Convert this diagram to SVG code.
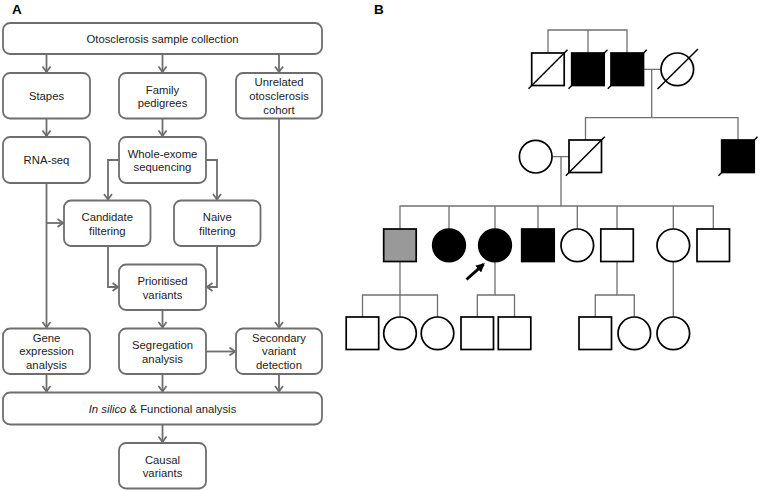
<svg xmlns="http://www.w3.org/2000/svg" width="760" height="491" viewBox="0 0 760 491">
<style>
.box{fill:#fff;stroke:#6e6e6e;stroke-width:1.8}
.t{font-family:"Liberation Sans",Arial,sans-serif;font-size:11.3px;fill:#222;text-anchor:middle}
.lbl{font-family:"Liberation Sans",Arial,sans-serif;font-size:13.5px;font-weight:bold;fill:#000}
.c{fill:none;stroke:#6e6e6e;stroke-width:1.8}
.pl{fill:none;stroke:#707070;stroke-width:1.3}
.sym{stroke:#000;stroke-width:1.7}
.o{fill:#fff}
.f{fill:#000}
.g{fill:#999}
.sl{stroke:#000;stroke-width:1.5}
</style>
<defs>
<marker id="ah" viewBox="0 0 10 10" refX="9" refY="5" markerWidth="10" markerHeight="10" markerUnits="userSpaceOnUse" orient="auto">
<path d="M3.5,1 L9,5 L3.5,9" fill="none" stroke="#6e6e6e" stroke-width="1.8"/>
</marker>
<marker id="bh" viewBox="0 0 10 10" refX="8" refY="5" markerWidth="9" markerHeight="9" markerUnits="userSpaceOnUse" orient="auto">
<path d="M0,0 L10,5 L0,10 Z" fill="#000"/>
</marker>
</defs>

<text class="lbl" x="12" y="14">A</text>
<text class="lbl" x="374" y="14">B</text>

<g id="connectors">
<path class="c" d="M46.5,54 V72" marker-end="url(#ah)"/>
<path class="c" d="M162.5,54 V72" marker-end="url(#ah)"/>
<path class="c" d="M279,54 V72" marker-end="url(#ah)"/>
<path class="c" d="M46.5,118.5 V136" marker-end="url(#ah)"/>
<path class="c" d="M162.5,118.5 V136" marker-end="url(#ah)"/>
<path class="c" d="M119,160 H108 V199.5" marker-end="url(#ah)"/>
<path class="c" d="M206,160 H217 V199.5" marker-end="url(#ah)"/>
<path class="c" d="M46.5,183.5 V327.5" marker-end="url(#ah)"/>
<path class="c" d="M46.5,223 H63" marker-end="url(#ah)"/>
<path class="c" d="M108,246 V287 H118" marker-end="url(#ah)"/>
<path class="c" d="M217,246 V287 H207" marker-end="url(#ah)"/>
<path class="c" d="M162.5,310 V327.5" marker-end="url(#ah)"/>
<path class="c" d="M279,118.5 V327.5" marker-end="url(#ah)"/>
<path class="c" d="M206,351.5 H235" marker-end="url(#ah)"/>
<path class="c" d="M46.5,374 V391.5" marker-end="url(#ah)"/>
<path class="c" d="M162.5,374 V391.5" marker-end="url(#ah)"/>
<path class="c" d="M279,374 V391.5" marker-end="url(#ah)"/>
<path class="c" d="M162.5,424.5 V442" marker-end="url(#ah)"/>
</g>

<g id="collection"><rect class="box" x="3" y="23" width="319" height="31" rx="7"/><text class="t" x="162.5" y="43">Otosclerosis sample collection</text></g>
<g id="stapes"><rect class="box" x="3" y="73" width="87" height="45.5" rx="7"/><text class="t" x="46.5" y="100">Stapes</text></g>
<g id="family"><rect class="box" x="119" y="73" width="87" height="45.5" rx="7"/><text class="t" x="162.5" y="93.5">Family</text><text class="t" x="162.5" y="107">pedigrees</text></g>
<g id="unrelated"><rect class="box" x="236" y="73" width="86" height="45.5" rx="7"/><text class="t" x="279" y="85.7">Unrelated</text><text class="t" x="279" y="100">otosclerosis</text><text class="t" x="279" y="113.5">cohort</text></g>
<g id="rnaseq"><rect class="box" x="3" y="137" width="87" height="46" rx="7"/><text class="t" x="46.5" y="164">RNA-seq</text></g>
<g id="wes"><rect class="box" x="119" y="137" width="87" height="46" rx="7"/><text class="t" x="162.5" y="157.5">Whole-exome</text><text class="t" x="162.5" y="171">sequencing</text></g>
<g id="candidate"><rect class="box" x="64" y="200.5" width="86.5" height="45.5" rx="7"/><text class="t" x="107.3" y="221">Candidate</text><text class="t" x="107.3" y="234.5">filtering</text></g>
<g id="naive"><rect class="box" x="174" y="200.5" width="86.5" height="45.5" rx="7"/><text class="t" x="217.3" y="221">Naive</text><text class="t" x="217.3" y="234.5">filtering</text></g>
<g id="prioritised"><rect class="box" x="119" y="264.5" width="87" height="45.5" rx="7"/><text class="t" x="162.5" y="285">Prioritised</text><text class="t" x="162.5" y="298.5">variants</text></g>
<g id="gene"><rect class="box" x="3" y="328.5" width="87" height="45.5" rx="7"/><text class="t" x="46.5" y="341.5">Gene</text><text class="t" x="46.5" y="355">expression</text><text class="t" x="46.5" y="368.5">analysis</text></g>
<g id="segregation"><rect class="box" x="119" y="328.5" width="87" height="45.5" rx="7"/><text class="t" x="162.5" y="349">Segregation</text><text class="t" x="162.5" y="362.5">analysis</text></g>
<g id="secondary"><rect class="box" x="236" y="328.5" width="86" height="45.5" rx="7"/><text class="t" x="279" y="341.5">Secondary</text><text class="t" x="279" y="355">variant</text><text class="t" x="279" y="368.5">detection</text></g>
<g id="insilico"><rect class="box" x="3" y="392.5" width="319" height="32" rx="7"/><text class="t" x="162.5" y="412.5"><tspan font-style="italic">In silico</tspan> &amp; Functional analysis</text></g>
<g id="causal"><rect class="box" x="119" y="443" width="87" height="45.5" rx="7"/><text class="t" x="162.5" y="463.5">Causal</text><text class="t" x="162.5" y="477">variants</text></g>

<g id="pedigree-lines">
<path class="pl" d="M548,53 V30 H627 V53 M588,30 V53"/>
<path class="pl" d="M643.5,69.3 H661 M651.7,69.3 V117.7 M585.5,140 V117.7 H738 V140"/>
<path class="pl" d="M552,156.7 H569 M561,156.7 V206"/>
<path class="pl" d="M400,229 V206 H713.3 V229 M449,206 V229 M495,206 V229 M538,206 V229 M577.3,206 V229 M617,206 V229 M673.3,206 V229"/>
<path class="pl" d="M400,261.5 V295 M362.5,317 V295 H437.5 V317 M400,295 V317"/>
<path class="pl" d="M495,262 V295 M477.3,317 V295 H514.5 V317"/>
<path class="pl" d="M617,261.5 V295 M595.3,317 V295 H634.3 V317"/>
<path class="pl" d="M673.3,262 V317"/>
</g>

<g id="gen1">
<rect class="sym o" x="531.7" y="53" width="32.5" height="32.5"/>
<line class="sl" x1="528.5" y1="88.7" x2="567.5" y2="49.7"/>
<rect class="sym f" x="571.7" y="53" width="32.5" height="32.5"/>
<line class="sl" x1="568.5" y1="88.7" x2="607.5" y2="49.7"/>
<rect class="sym f" x="611" y="53" width="32.5" height="32.5"/>
<line class="sl" x1="607.8" y1="88.7" x2="646.8" y2="49.7"/>
<circle class="sym o" cx="677.3" cy="69.3" r="16.3"/>
<line class="sl" x1="657.5" y1="89" x2="698" y2="49"/>
</g>

<g id="gen2">
<circle class="sym o" cx="535.7" cy="156.7" r="16.3"/>
<rect class="sym o" x="569" y="140" width="32.5" height="32.5"/>
<line class="sl" x1="565.8" y1="175.7" x2="604.8" y2="136.7"/>
<rect class="sym f" x="721.7" y="140" width="32.5" height="32.5"/>
<line class="sl" x1="718.5" y1="175.7" x2="757.5" y2="136.7"/>
</g>

<g id="gen3">
<rect class="sym g" x="383.7" y="229" width="32.5" height="32.5"/>
<circle class="sym f" cx="449" cy="245.3" r="16.3"/>
<circle class="sym f" cx="495" cy="245.3" r="16.3"/>
<rect class="sym f" x="521.7" y="229" width="32.5" height="32.5"/>
<circle class="sym o" cx="577.3" cy="245.3" r="16.3"/>
<rect class="sym o" x="600.8" y="229" width="32.5" height="32.5"/>
<circle class="sym o" cx="673.3" cy="245.3" r="16.3"/>
<rect class="sym o" x="697" y="229" width="32.5" height="32.5"/>
<line x1="466.5" y1="279.5" x2="483.5" y2="264.3" stroke="#000" stroke-width="3" marker-end="url(#bh)"/>
</g>

<g id="gen4">
<rect class="sym o" x="346.2" y="317" width="32.5" height="32.5"/>
<circle class="sym o" cx="400" cy="333.3" r="16.3"/>
<circle class="sym o" cx="437.5" cy="333.3" r="16.3"/>
<rect class="sym o" x="461" y="317" width="32.5" height="32.5"/>
<rect class="sym o" x="498.3" y="317" width="32.5" height="32.5"/>
<rect class="sym o" x="579" y="317" width="32.5" height="32.5"/>
<circle class="sym o" cx="634.3" cy="333.3" r="16.3"/>
<circle class="sym o" cx="673.3" cy="333.3" r="16.3"/>
</g>
</svg>
